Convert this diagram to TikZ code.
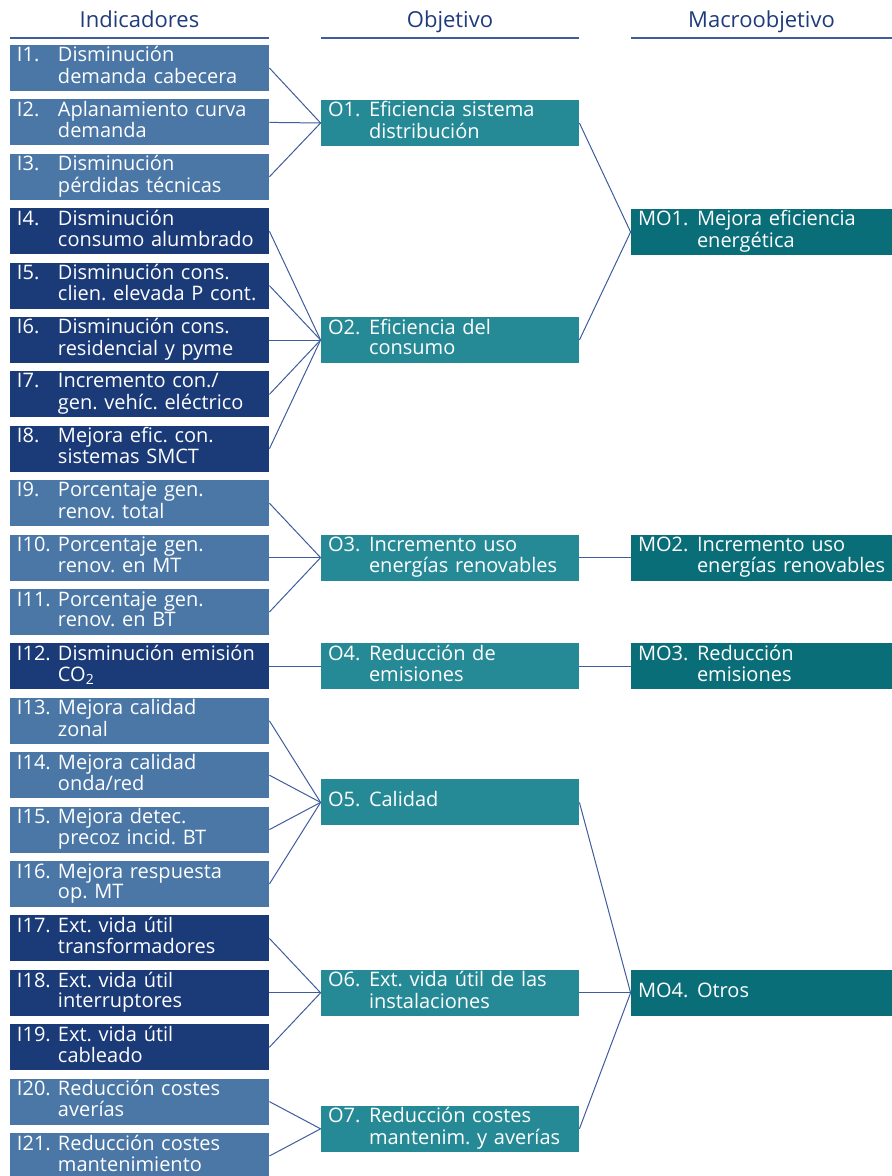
\documentclass[tikz,border=0pt]{standalone}
\usepackage{fontspec}
\setmainfont{Open Sans}
\usepackage{tikz}
\frenchspacing
\definecolor{indlight}{HTML}{4A77A6}
\definecolor{inddark}{HTML}{1B3A78}
\definecolor{objcol}{HTML}{268A96}
\definecolor{macrocol}{HTML}{0A6E78}
\definecolor{headcol}{HTML}{1F3B7C}
\definecolor{linkcol}{HTML}{3F5C9C}
\newlength{\labw}
\newcommand{\lab}[3]{\noindent\raisebox{-1.2pt}{\begin{tabular}[c]{@{}p{\labw}@{}l@{}}#1&#2\\&#3\end{tabular}}}
\newcommand{\labone}[2]{\noindent\raisebox{-0.6pt}{\begin{tabular}[c]{@{}p{\labw}@{}l@{}}#1&#2\end{tabular}}}
\tikzset{
  box/.style={text=white, inner xsep=3.5pt, inner ysep=0pt, minimum height=23pt,
    align=left, font=\fontsize{10}{10.2}\selectfont},
  indbox/.style={box, text width=122.5pt, execute at begin node={\frenchspacing\setlength{\labw}{20.5pt}}},
  light/.style={indbox, fill=indlight},
  dark/.style={indbox, fill=inddark},
  objbox/.style={box, fill=objcol, text width=122pt, execute at begin node={\frenchspacing\setlength{\labw}{20.5pt}}},
  macrobox/.style={box, fill=macrocol, text width=123.5pt, execute at begin node={\frenchspacing\setlength{\labw}{29.5pt}}},
  head/.style={text=headcol, anchor=base, font=\fontsize{11}{12}\selectfont},
  rule/.style={draw=linkcol, line width=0.6pt},
  link/.style={draw=linkcol, line width=0.5pt},
}
\begin{document}
\begin{tikzpicture}[x=0.5pt,y=-0.5pt]
\useasboundingbox (0,0) rectangle (892,1176);
% headers
\node[head] (HI) at (139.5,28) {Indicadores};
\node[head] (HO) at (450,28) {Objetivo};
\node[head] (HM) at (761.5,28) {Macroobjetivo};
\draw[rule] (10,38) -- (269,38);
\draw[rule] (321,38) -- (579,38);
\draw[rule] (631,38) -- (892,38);
% indicadores
\node[light] (I1) at (139.5,68) {\lab{I1.}{Disminución}{demanda cabecera}};
\node[light] (I2) at (139.5,122.4) {\lab{I2.}{Aplanamiento curva}{demanda}};
\node[light] (I3) at (139.5,176.8) {\lab{I3.}{Disminución}{pérdidas técnicas}};
\node[dark] (I4) at (139.5,231.2) {\lab{I4.}{Disminución}{consumo alumbrado}};
\node[dark] (I5) at (139.5,285.6) {\lab{I5.}{Disminución cons.}{clien. elevada P cont.}};
\node[dark] (I6) at (139.5,340) {\lab{I6.}{Disminución cons.}{residencial y pyme}};
\node[dark] (I7) at (139.5,394.4) {\lab{I7.}{Incremento con./}{gen. vehíc. eléctrico}};
\node[dark] (I8) at (139.5,448.8) {\lab{I8.}{Mejora efic. con.}{sistemas SMCT}};
\node[light] (I9) at (139.5,503.2) {\lab{I9.}{Porcentaje gen.}{renov. total}};
\node[light] (I10) at (139.5,557.6) {\lab{I10.}{Porcentaje gen.}{renov. en MT}};
\node[light] (I11) at (139.5,612) {\lab{I11.}{Porcentaje gen.}{renov. en BT}};
\node[dark] (I12) at (139.5,666.4) {\lab{I12.}{Disminución emisión}{CO\textsubscript{2}}};
\node[light] (I13) at (139.5,720.8) {\lab{I13.}{Mejora calidad}{zonal}};
\node[light] (I14) at (139.5,775.2) {\lab{I14.}{Mejora calidad}{onda/red}};
\node[light] (I15) at (139.5,829.6) {\lab{I15.}{Mejora detec.}{precoz incid. BT}};
\node[light] (I16) at (139.5,884) {\lab{I16.}{Mejora respuesta}{op. MT}};
\node[dark] (I17) at (139.5,938.4) {\lab{I17.}{Ext. vida útil}{transformadores}};
\node[dark] (I18) at (139.5,992.8) {\lab{I18.}{Ext. vida útil}{interruptores}};
\node[dark] (I19) at (139.5,1047.2) {\lab{I19.}{Ext. vida útil}{cableado}};
\node[light] (I20) at (139.5,1101.6) {\lab{I20.}{Reducción costes}{averías}};
\node[light] (I21) at (139.5,1156) {\lab{I21.}{Reducción costes}{mantenimiento}};
% objetivos
\node[objbox] (O1) at (450,123) {\lab{O1.}{Eficiencia sistema}{distribución}};
\node[objbox] (O2) at (450,340) {\lab{O2.}{Eficiencia del}{consumo}};
\node[objbox] (O3) at (450,557.6) {\lab{O3.}{Incremento uso}{energías renovables}};
\node[objbox] (O4) at (450,666.4) {\lab{O4.}{Reducción de}{emisiones}};
\node[objbox] (O5) at (450,802.4) {\labone{O5.}{Calidad}};
\node[objbox] (O6) at (450,992.8) {\lab{O6.}{Ext. vida útil de las}{instalaciones}};
\node[objbox] (O7) at (450,1128.8) {\lab{O7.}{Reducción costes}{mantenim. y averías}};
% macroobjetivos
\node[macrobox] (M1) at (761.5,232) {\lab{MO1.}{Mejora eficiencia}{energética}};
\node[macrobox] (M2) at (761.5,557.6) {\lab{MO2.}{Incremento uso}{energías renovables}};
\node[macrobox] (M3) at (761.5,666.4) {\lab{MO3.}{Reducción}{emisiones}};
\node[macrobox] (M4) at (761.5,992.8) {\labone{MO4.}{Otros}};
% enlaces
\foreach \a/\b in {I1/O1,I2/O1,I3/O1,I4/O2,I5/O2,I6/O2,I7/O2,I8/O2,
  I9/O3,I10/O3,I11/O3,I12/O4,I13/O5,I14/O5,I15/O5,I16/O5,
  I17/O6,I18/O6,I19/O6,I20/O7,I21/O7,
  O1/M1,O2/M1,O3/M2,O4/M3,O5/M4,O6/M4,O7/M4}
  \draw[link] (\a.east) -- (\b.west);
\end{tikzpicture}
\end{document}
